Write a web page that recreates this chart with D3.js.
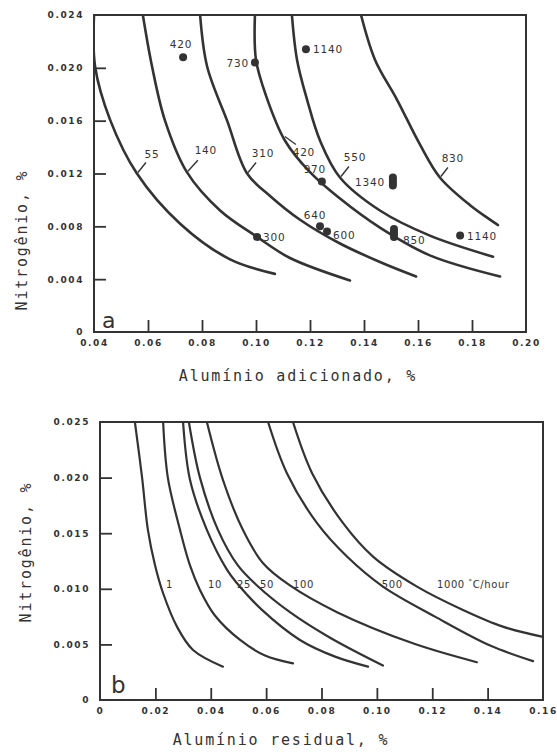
<!DOCTYPE html>
<html>
<head>
<meta charset="utf-8">
<script src="https://cdn.jsdelivr.net/npm/d3@7"></script>
<style>
  body { margin: 0; background: #fff; }
  svg text { fill: #333; }
</style>
</head>
<body>
<div id="chart"></div>
<script>
// ---- panel a : nitrogen vs added aluminium ----
var xTicksA = [0.04, 0.06, 0.08, 0.10, 0.12, 0.14, 0.16, 0.18, 0.20];
var xTickLabelsA = ["0.04", "0.06", "0.08", "0.10", "0.12", "0.14", "0.16", "0.18", "0.20"];
var yTicksA = [0, 0.004, 0.008, 0.012, 0.016, 0.020, 0.024];
var yTickLabelsA = ["0", "0.004", "0.008", "0.012", "0.016", "0.020", "0.024"];

var curveNamesA = ["55", "140", "310", "420", "550", "830"];
var curve55  = [[0.0400,0.0240],[0.0404,0.0201],[0.0459,0.0161],[0.0559,0.0120],[0.0719,0.0082],[0.0904,0.0055],[0.1070,0.0044]];
var curve140 = [[0.0581,0.0240],[0.0615,0.0201],[0.0663,0.0160],[0.0744,0.0121],[0.0867,0.0092],[0.1004,0.0072],[0.1126,0.0056],[0.1348,0.0039]];
var curve310 = [[0.0793,0.0240],[0.0819,0.0201],[0.0893,0.0160],[0.0967,0.0120],[0.1052,0.0103],[0.1163,0.0085],[0.1311,0.0067],[0.1459,0.0053],[0.1593,0.0042]];
var curve420 = [[0.0996,0.0240],[0.1000,0.0206],[0.1037,0.0179],[0.1107,0.0145],[0.1200,0.0121],[0.1311,0.0101],[0.1459,0.0079],[0.1644,0.0058],[0.1904,0.0042]];
var curve550 = [[0.1133,0.0240],[0.1152,0.0206],[0.1189,0.0176],[0.1237,0.0145],[0.1311,0.0117],[0.1459,0.0092],[0.1644,0.0073],[0.1878,0.0057]];
var curve830 = [[0.1389,0.0240],[0.1441,0.0206],[0.1522,0.0176],[0.1607,0.0142],[0.1681,0.0117],[0.1793,0.0096],[0.1896,0.0081]];
var curvesA = [curve55, curve140, curve310, curve420, curve550, curve830];

// measured points (al, n) and the label each group carries
var pointLabelsA = ["420", "730", "1140", "970", "1340", "640", "600", "300", "850", "1140"];
var pointGroupsA = [
  [[0.0730,0.0208]],
  [[0.0996,0.0204]],
  [[0.1185,0.0214]],
  [[0.1244,0.0114]],
  [[0.1507,0.0117],[0.1507,0.0115],[0.1507,0.0113],[0.1507,0.0111]],
  [[0.1237,0.0080]],
  [[0.1263,0.0076]],
  [[0.1004,0.0072]],
  [[0.1511,0.0078],[0.1511,0.0076],[0.1511,0.0074],[0.1511,0.0072]],
  [[0.1756,0.0073]]
];

// ---- panel b : nitrogen vs residual aluminium ----
var xTicksB = [0, 0.02, 0.04, 0.06, 0.08, 0.10, 0.12, 0.14, 0.16];
var xTickLabelsB = ["0", "0.02", "0.04", "0.06", "0.08", "0.10", "0.12", "0.14", "0.16"];
var yTicksB = [0, 0.005, 0.010, 0.015, 0.020, 0.025];
var yTickLabelsB = ["0", "0.005", "0.010", "0.015", "0.020", "0.025"];

var curveNamesB = ["1", "10", "25", "50", "100", "500", "1000"];
var rate1    = [[0.0126,0.0250],[0.0152,0.0200],[0.0173,0.0153],[0.0199,0.0121],[0.0228,0.0096],[0.0278,0.0066],[0.0336,0.0045],[0.0444,0.0030]];
var rate10   = [[0.0228,0.0250],[0.0245,0.0200],[0.0289,0.0153],[0.0325,0.0121],[0.0361,0.0099],[0.0415,0.0076],[0.0506,0.0054],[0.0596,0.0040],[0.0697,0.0033]];
var rate25   = [[0.0300,0.0250],[0.0325,0.0198],[0.0386,0.0153],[0.0459,0.0117],[0.0495,0.0105],[0.0585,0.0081],[0.0722,0.0054],[0.0849,0.0039],[0.0968,0.0030]];
var rate50   = [[0.0321,0.0250],[0.0361,0.0200],[0.0426,0.0153],[0.0498,0.0121],[0.0567,0.0103],[0.0686,0.0079],[0.0831,0.0056],[0.1022,0.0031]];
var rate100  = [[0.0386,0.0250],[0.0444,0.0198],[0.0516,0.0153],[0.0589,0.0123],[0.0686,0.0103],[0.0856,0.0079],[0.1130,0.0051],[0.1361,0.0034]];
var rate500  = [[0.0607,0.0250],[0.0675,0.0204],[0.0784,0.0159],[0.0892,0.0129],[0.1022,0.0102],[0.1210,0.0075],[0.1409,0.0049],[0.1564,0.0035]];
var rate1000 = [[0.0697,0.0250],[0.0766,0.0204],[0.0878,0.0159],[0.0986,0.0129],[0.1145,0.0102],[0.1311,0.0081],[0.1455,0.0066],[0.1596,0.0057]];
var curvesB = [rate1, rate10, rate25, rate50, rate100, rate500, rate1000];

// where the rate labels sit (al, n of text start)
var labelPosB = [[0.0238,0.0101],[0.0390,0.0101],[0.0495,0.0101],[0.0578,0.0101],[0.0697,0.0101],[0.1018,0.0101],[0.1217,0.0101]];

var width = 557, height = 752;
var ink = "#333";

var svg = d3.select("#chart")
  .append("svg")
    .attr("width", width)
    .attr("height", height);

var xA = d3.scaleLinear().domain([0.04, 0.20]).range([94, 526]);
var yA = d3.scaleLinear().domain([0, 0.024]).range([332, 15]);
var xB = d3.scaleLinear().domain([0, 0.16]).range([100, 543]);
var yB = d3.scaleLinear().domain([0, 0.025]).range([700, 422]);

// axes with ticks pointing into the plot, no marks at the frame corners
function drawAxes(x, y, xt, xl, yt, yl) {
  var gx = svg.append("g")
    .attr("transform", "translate(0," + y.range()[0] + ")")
    .call(d3.axisBottom(x).tickValues(xt).tickSize(-12).tickPadding(8)
      .tickFormat(function(d, i) { return xl[i]; }));
  var gy = svg.append("g")
    .attr("transform", "translate(" + x.range()[0] + ",0)")
    .call(d3.axisLeft(y).tickValues(yt).tickSize(-12).tickPadding(10)
      .tickFormat(function(d, i) { return yl[i]; }));
  [gx, gy].forEach(function(g) {
    g.select(".domain").remove();
    g.selectAll(".tick line")
      .attr("stroke", ink)
      .attr("stroke-width", 1.8)
      .filter(function(d, i, n) { return i == 0 || i == n.length - 1; })
      .remove();
    g.selectAll(".tick text")
      .style("font-family", "DejaVu Sans")
      .style("font-weight", "bold")
      .style("font-size", "9px")
      .style("letter-spacing", "1.6px")
      .attr("fill", ink);
  });
  // frame
  svg.append("rect")
    .attr("x", x.range()[0])
    .attr("y", y.range()[1])
    .attr("width", x.range()[1] - x.range()[0])
    .attr("height", y.range()[0] - y.range()[1])
    .attr("fill", "none")
    .attr("stroke", ink)
    .attr("stroke-width", 2);
}

drawAxes(xA, yA, xTicksA, xTickLabelsA, yTicksA, yTickLabelsA);
drawAxes(xB, yB, xTicksB, xTickLabelsB, yTicksB, yTickLabelsB);

// clip each panel to its frame
var defs = svg.append("defs");
[["clipA", xA, yA], ["clipB", xB, yB]].forEach(function(c) {
  defs.append("clipPath").attr("id", c[0])
    .append("rect")
      .attr("x", c[1].range()[0])
      .attr("y", c[2].range()[1])
      .attr("width", c[1].range()[1] - c[1].range()[0])
      .attr("height", c[2].range()[0] - c[2].range()[1]);
});

var lineA = d3.line()
  .x(function(d) { return xA(d[0]); })
  .y(function(d) { return yA(d[1]); })
  .curve(d3.curveCatmullRom.alpha(0.5));

var lineB = d3.line()
  .x(function(d) { return xB(d[0]); })
  .y(function(d) { return yB(d[1]); })
  .curve(d3.curveCatmullRom.alpha(0.5));

svg.append("g").attr("clip-path", "url(#clipA)")
  .selectAll("path")
  .data(curvesA)
  .enter()
  .append("path")
    .attr("d", lineA)
    .attr("fill", "none")
    .attr("stroke", ink)
    .attr("stroke-width", 2.6)
    .attr("stroke-linecap", "round");

svg.append("g").attr("clip-path", "url(#clipB)")
  .selectAll("path")
  .data(curvesB)
  .enter()
  .append("path")
    .attr("d", lineB)
    .attr("fill", "none")
    .attr("stroke", ink)
    .attr("stroke-width", 2.2)
    .attr("stroke-linecap", "round");

// curve labels of panel a with little leader lines
// [curve index, point index, text dx, text dy, leader dx, leader dy]
var leaderA = [
  [0, 3, 15, -16, 9, -11],
  [1, 3, 19, -18, 11, -12],
  [2, 3, 16, -17, 9, -11],
  [3, 3, 19, 16, null, null],
  [4, 4, 15, -16, 9, -11],
  [5, 4, 13, -15, 8, -10]
];
leaderA.forEach(function(l) {
  var p = curvesA[l[0]][l[1]];
  var px = xA(p[0]), py = yA(p[1]);
  svg.append("text")
    .attr("x", px + l[2])
    .attr("y", py + l[3])
    .attr("text-anchor", "middle")
    .style("font-family", "DejaVu Sans")
    .style("font-size", "10.5px")
    .style("letter-spacing", "0.8px")
    .text(curveNamesA[l[0]]);
  if (l[4] != null) {
    svg.append("line")
      .attr("x1", px + 1).attr("y1", py - 1)
      .attr("x2", px + l[4]).attr("y2", py + l[5])
      .attr("stroke", ink).attr("stroke-width", 1.4);
  }
});
// small arrow pointing at the 420 curve
var p420 = curvesA[3][3];
svg.append("line")
  .attr("x1", xA(p420[0]))
  .attr("y1", yA(p420[1]) - 4)
  .attr("x2", xA(p420[0]) + 11)
  .attr("y2", yA(p420[1]) + 4)
  .attr("stroke", ink).attr("stroke-width", 1.3);

// measured points
var pointOffsets = [
  [-2, -9, "middle"], [-6, 4, "end"], [7, 4, "start"], [-7, -8, "middle"],
  [-8, 1, "end"], [-5, -7, "middle"], [6, 7, "start"], [6, 4, "start"],
  [9, 7, "start"], [7, 4, "start"]
];
pointGroupsA.forEach(function(group, i) {
  svg.selectAll(null)
    .data(group)
    .enter()
    .append("circle")
      .attr("cx", function(d) { return xA(d[0]); })
      .attr("cy", function(d) { return yA(d[1]); })
      .attr("r", 4)
      .attr("fill", ink);
  var ref = group[group.length - 1];
  var o = pointOffsets[i];
  svg.append("text")
    .attr("x", xA(ref[0]) + o[0])
    .attr("y", yA(ref[1]) + o[1])
    .attr("text-anchor", o[2])
    .style("font-family", "DejaVu Sans")
    .style("font-size", "10.5px")
    .style("letter-spacing", "0.8px")
    .text(pointLabelsA[i]);
});

// rate labels of panel b
curveNamesB.forEach(function(name, i) {
  var t = svg.append("text")
    .attr("x", xB(labelPosB[i][0]))
    .attr("y", yB(labelPosB[i][1]))
    .style("font-family", "DejaVu Sans")
    .style("font-size", "10px")
    .style("letter-spacing", "0.6px");
  if (i == curveNamesB.length - 1) {
    t.append("tspan").text(name + " ");
    t.append("tspan").attr("dy", -4).style("font-size", "7px").text("°");
    t.append("tspan").attr("dy", 4).text("C/hour");
  } else {
    t.text(name);
  }
});

// panel letters
svg.append("text").attr("x", xA(0.0430)).attr("y", yA(0.0003))
  .style("font-family", "DejaVu Sans").style("font-size", "22px").text("a");
svg.append("text").attr("x", xB(0.0040)).attr("y", yB(0.0006))
  .style("font-family", "DejaVu Sans").style("font-size", "23px").text("b");

// axis titles
function axisTitle(x, y, rot, txt) {
  svg.append("text")
    .attr("transform", "translate(" + x + "," + y + ") rotate(" + rot + ")")
    .attr("text-anchor", "middle")
    .style("font-family", "DejaVu Sans Mono")
    .style("font-size", "15px")
    .style("letter-spacing", "1.8px")
    .text(txt);
}
axisTitle(298, 381, 0, "Alumínio adicionado, %");
axisTitle(27, 240, -90, "Nitrogênio, %");
axisTitle(281, 745, 0, "Alumínio residual, %");
axisTitle(31, 552, -90, "Nitrogênio, %");
</script>
</body>
</html>
